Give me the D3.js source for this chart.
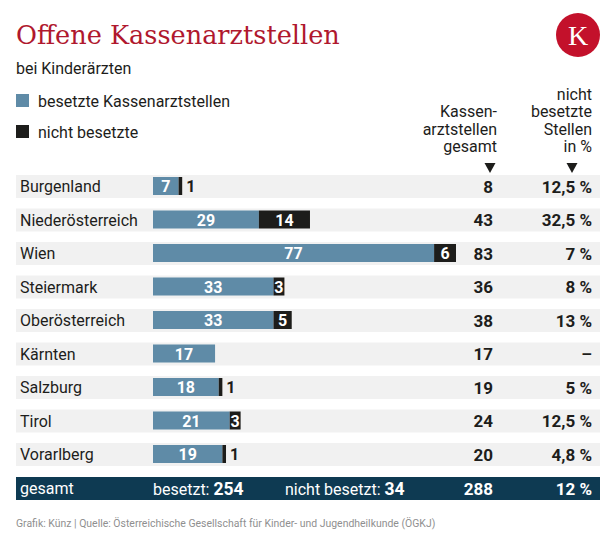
<!DOCTYPE html>
<html><head><meta charset="utf-8">
<script src="https://cdn.jsdelivr.net/npm/d3@7/dist/d3.min.js"></script>
<style>
html,body{margin:0;padding:0;background:#fff;}
svg{display:block;font-family:Roboto,"Noto Sans",sans-serif;}
</style></head>
<body><svg id="c" width="616" height="543"></svg>
<script>
const regions = ["Burgenland","Niederösterreich","Wien","Steiermark","Oberösterreich","Kärnten","Salzburg","Tirol","Vorarlberg"];
const besetzt = [7,29,77,33,33,17,18,21,19];
const nichtBesetzt = [1,14,6,3,5,0,1,3,1];
const gesamt = [8,43,83,36,38,17,19,24,20];
const prozent = ["12,5 %","32,5 %","7 %","8 %","13 %","–","5 %","12,5 %","4,8 %"];
const totalBesetzt = 254, totalNicht = 34, totalGesamt = 288, totalProzent = "12 %";

const svg = d3.select("#c");
const BLUE = "#5f8ba7", BLACK = "#1d1d1b", ROWBG = "#f1f1f1", NAVY = "#0e3a52", RED = "#b0182e";

function fitWidth(sel, target){
  const fs = parseFloat(sel.style("font-size"));
  const w = sel.node().getComputedTextLength();
  sel.style("font-size", (fs*target/w)+"px");
}

// title
const title = svg.append("text").attr("x",16).attr("y",44).attr("fill",RED)
  .style("font-family","'DejaVu Serif','Liberation Serif',serif").style("font-size","26px")
  .text("Offene Kassenarztstellen");
fitWidth(title, 324);
svg.append("text").attr("x",16).attr("y",74).attr("fill","#1d1d1b").style("font-size","16px").text("bei Kinderärzten");
// logo
svg.append("circle").attr("cx",578).attr("cy",35).attr("r",22).attr("fill","#c3112b");
svg.append("text").attr("x",578).attr("y",45).attr("text-anchor","middle").attr("fill","#fff")
  .style("font-family","'Liberation Serif',serif").style("font-size","28px").text("K");

// legend
const legend = [["besetzte Kassenarztstellen",BLUE,107],["nicht besetzte",BLACK,138]];
legend.forEach(([t,c,y])=>{
  svg.append("rect").attr("x",16).attr("y",y-13).attr("width",13).attr("height",13).attr("fill",c);
  svg.append("text").attr("x",38).attr("y",y).attr("fill","#1d1d1b").style("font-size","16px").text(t);
});

// headers
const h1 = ["Kassen-","arztstellen","gesamt"];
h1.forEach((t,i)=>svg.append("text").attr("x",497).attr("y",117+i*17.5).attr("text-anchor","end")
  .attr("fill","#1d1d1b").style("font-size","16px").text(t));
const h2 = ["nicht","besetzte","Stellen","in %"];
h2.forEach((t,i)=>svg.append("text").attr("x",592).attr("y",99.5+i*17.5).attr("text-anchor","end")
  .attr("fill","#1d1d1b").style("font-size","16px").text(t));
[490,572].forEach(cx=>svg.append("path").attr("d",`M${cx-5.5},163L${cx+5.5},163L${cx},173Z`).attr("fill",BLACK));

// scales
const y = d3.scaleBand().domain(regions).range([175,466]).paddingInner(10.5/33.5).paddingOuter(0);
const x = d3.scaleLinear().domain([0,83]).range([153,456]);

const rows = svg.append("g").selectAll("g").data(regions).join("g")
  .attr("transform",d=>`translate(0,${y(d)})`);
rows.append("rect").attr("x",16).attr("width",584).attr("height",y.bandwidth()).attr("fill",ROWBG);
rows.append("text").attr("x",20).attr("y",17).attr("fill","#1d1d1b").style("font-size","16px").text(d=>d);

rows.each(function(d,i){
  const g = d3.select(this);
  const b = besetzt[i], n = nichtBesetzt[i];
  g.append("rect").attr("x",x(0)).attr("y",2).attr("width",x(b)-x(0)).attr("height",18).attr("fill",BLUE);
  g.append("text").attr("x",(x(0)+x(b))/2).attr("y",17).attr("text-anchor","middle").attr("fill","#fff")
    .style("font-size","16px").style("font-weight","700").text(b);
  if(n>0){
    const w = x(b+n)-x(b);
    g.append("rect").attr("x",x(b)).attr("y",2).attr("width",w).attr("height",18).attr("fill",BLACK);
    if(w>=9){
      g.append("text").attr("x",(x(b)+x(b+n))/2).attr("y",17).attr("text-anchor","middle").attr("fill","#fff")
        .style("font-size","16px").style("font-weight","700").text(n);
    } else {
      g.append("text").attr("x",x(b+n)+4).attr("y",17).attr("fill",BLACK)
        .style("font-size","16px").style("font-weight","700").text(n);
    }
  }
  g.append("text").attr("x",493).attr("y",17.5).attr("text-anchor","end").attr("fill","#1d1d1b")
    .style("font-size","17px").style("font-weight","700").text(gesamt[i]);
  g.append("text").attr("x",592).attr("y",17.5).attr("text-anchor","end").attr("fill","#1d1d1b")
    .style("font-size","17px").style("font-weight","700").text(prozent[i]);
});

// total row
const tg = svg.append("g").attr("transform","translate(0,477)");
tg.append("rect").attr("x",16).attr("width",584).attr("height",23).attr("fill",NAVY);
tg.append("text").attr("x",20).attr("y",17).attr("fill","#fff").style("font-size","16px").text("gesamt");
const t1 = tg.append("text").attr("x",153).attr("y",17.5).attr("fill","#fff").style("font-size","16px");
t1.append("tspan").text("besetzt: ");
t1.append("tspan").style("font-weight","700").style("font-size","17.5px").text(totalBesetzt);
const t2 = tg.append("text").attr("x",285).attr("y",17.5).attr("fill","#fff").style("font-size","16px");
t2.append("tspan").text("nicht besetzt: ");
t2.append("tspan").style("font-weight","700").style("font-size","17.5px").text(totalNicht);
tg.append("text").attr("x",493).attr("y",17.5).attr("text-anchor","end").attr("fill","#fff")
  .style("font-size","17px").style("font-weight","700").text(totalGesamt);
tg.append("text").attr("x",592).attr("y",17.5).attr("text-anchor","end").attr("fill","#fff")
  .style("font-size","17px").style("font-weight","700").text(totalProzent);

// footer
const foot = svg.append("text").attr("x",16).attr("y",527).attr("fill","#8f8f8f").style("font-size","11px")
  .text("Grafik: Künz | Quelle: Österreichische Gesellschaft für Kinder- und Jugendheilkunde (ÖGKJ)");
fitWidth(foot, 420);
</script></body></html>
